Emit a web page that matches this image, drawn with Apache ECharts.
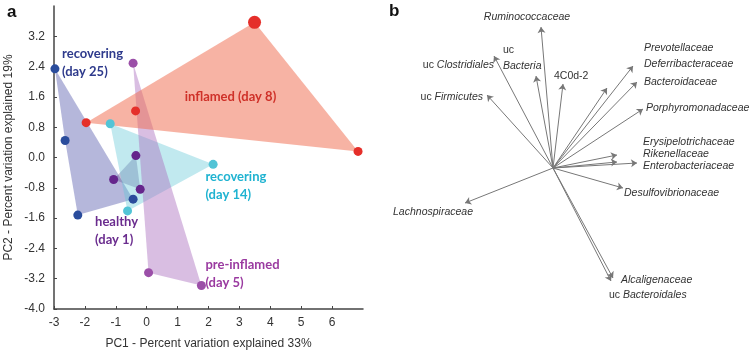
<!DOCTYPE html>
<html>
<head>
<meta charset="utf-8">
<script src="https://cdn.jsdelivr.net/npm/echarts@6/dist/echarts.min.js"></script>
<style>html,body{margin:0;padding:0;background:#fff}#c{width:752px;height:355px}</style>
</head>
<body>
<div id="c"></div>
<script>
// ---------- Panel a data (PC1, PC2) ----------
const groups = ['recovering (day 25)', 'healthy (day 1)', 'recovering (day 14)', 'pre-inflamed (day 5)', 'inflamed (day 8)'];
const recovering25 = [[-2.97, 2.34], [-2.64, 0.45], [-2.23, -1.52], [-0.44, -1.10]];
const healthy1 = [[-0.35, 0.05], [-1.07, -0.58], [-0.21, -0.84]];
const recovering14 = [[-1.18, 0.89], [2.15, -0.18], [-0.62, -1.41]];
const preInflamed5 = [[-0.44, 2.49], [0.06, -3.04], [1.77, -3.38]];
const inflamed8 = [[3.49, 3.57], [-1.96, 0.92], [-0.36, 1.23], [6.84, 0.16]];
const xTicks = [-3, -2, -1, 0, 1, 2, 3, 4, 5, 6];
const yTicks = [-4.0, -3.2, -2.4, -1.6, -0.8, 0.0, 0.8, 1.6, 2.4, 3.2];

// ---------- Panel b data (loadings) ----------
const taxa = ['Ruminococcaceae', 'uc Clostridiales', 'uc Bacteria', '4C0d-2', 'uc Firmicutes',
  'Prevotellaceae', 'Deferribacteraceae', 'Bacteroidaceae', 'Porphyromonadaceae',
  'Erysipelotrichaceae', 'Rikenellaceae', 'Enterobacteriaceae', 'Desulfovibrionaceae',
  'Lachnospiraceae', 'Alcaligenaceae', 'uc Bacteroidales'];
const loadX = [-0.12, -0.59, -0.17, 0.10, -0.66, 0.54, 0.80, 0.84, 0.90, 0.64, 0.64, 0.84, 0.70, -0.88, 0.60, 0.58];
const loadY = [1.41, 1.12, 0.92, 0.84, 0.73, 0.80, 1.02, 0.86, 0.59, 0.13, 0.06, 0.05, -0.20, -0.35, -1.10, -1.13];

// ---------- styling / layout (not data) ----------
const groupData = [recovering25, healthy1, recovering14, preInflamed5, inflamed8];
const pointColor = ['#2a4c9c', '#65258c', '#52c4d6', '#9b4fa8', '#e52f2a'];
const fillColor = ['rgba(90,95,175,0.45)', 'rgba(110,90,150,0.4)', 'rgba(100,200,215,0.4)', 'rgba(170,110,190,0.45)', 'rgba(240,110,80,0.52)'];
const textColor = ['#2e3a8c', '#6a2c8e', '#1fb3d1', '#9a3aa0', '#cf3129'];
const groupText = [['recovering', '(day 25)'], ['healthy', '(day 1)'], ['recovering', '(day 14)'], ['pre-inflamed', '(day 5)'], ['inflamed (day 8)']];
const groupTextAt = [[-2.74, 2.49, 'left'], [-1.67, -1.94, 'left'], [1.90, -0.76, 'left'], [1.90, -3.07, 'left'], [2.71, 1.60, 'center']];
// label offsets for panel b in px relative to arrow tip: [dx, dy, align]
const taxaLabel = [[-14, -10, 'center'], [0, 9, 'right'], [-33, -18, 'left'], [-9, -8, 'left'], [-4, 2, 'right'],
  [37, -40, 'left'], [11, -2, 'left'], [7, 0, 'left'], [3, -1, 'left'],
  [26, -13, 'left'], [26, -8, 'left'], [6, 3, 'left'], [1, 5, 'left'],
  [8, 9, 'right'], [8, 2, 'left'], [-2, 14, 'left']];

function hull(pts) {
  const p = pts.slice().sort((a, b) => a[0] - b[0] || a[1] - b[1]);
  const cross = (o, a, b) => (a[0] - o[0]) * (b[1] - o[1]) - (a[1] - o[1]) * (b[0] - o[0]);
  const lo = [], up = [];
  for (const q of p) { while (lo.length >= 2 && cross(lo[lo.length - 2], lo[lo.length - 1], q) <= 0) lo.pop(); lo.push(q); }
  for (let i = p.length - 1; i >= 0; i--) { const q = p[i]; while (up.length >= 2 && cross(up[up.length - 2], up[up.length - 1], q) <= 0) up.pop(); up.push(q); }
  up.pop(); lo.pop(); return lo.concat(up);
}

function richText(name) {
  if (name === '4C0d-2') return '{n|4C0d-2}';
  if (name === 'uc Bacteria') return '{n|uc}\n{i|Bacteria}';
  if (name.startsWith('uc ')) return '{n|uc }{i|' + name.slice(3) + '}';
  return '{i|' + name + '}';
}

const series = [];
groupData.forEach((pts, gi) => {
  series.push({
    type: 'custom', name: groups[gi] + ' hull', xAxisIndex: 0, yAxisIndex: 0, z: 2, silent: true,
    data: [0],
    renderItem: (params, api) => ({
      type: 'polygon',
      shape: { points: hull(pts).map(p => api.coord(p)) },
      style: { fill: fillColor[gi], stroke: 'none' }
    })
  });
});
groupData.forEach((pts, gi) => {
  series.push({
    type: 'scatter', name: groups[gi], xAxisIndex: 0, yAxisIndex: 0, z: 5,
    data: pts,
    symbolSize: (v, p) => (gi === 4 && p.dataIndex === 0) ? 13 : 9,
    itemStyle: { color: pointColor[gi], opacity: 1 }
  });
});
series.push({
  type: 'custom', xAxisIndex: 0, yAxisIndex: 0, z: 6, silent: true,
  data: groupText.map((t, i) => i),
  renderItem: (params, api) => {
    const i = params.dataIndex;
    const at = groupTextAt[i];
    const c = api.coord([at[0], at[1]]);
    return {
      type: 'text', x: c[0], y: c[1],
      style: {
        text: groupText[i].join('\n'), fill: textColor[i], align: at[2], verticalAlign: 'middle',
        font: 'bold 13px Lato', lineHeight: 18
      }
    };
  }
});
series.push({
  type: 'lines', coordinateSystem: 'cartesian2d', xAxisIndex: 1, yAxisIndex: 1, z: 3, silent: true,
  symbol: ['none', 'arrow'], symbolSize: 6,
  lineStyle: { color: '#777', width: 1, opacity: 1 },
  data: taxa.map((t, i) => ({ coords: [[0, 0], [loadX[i], loadY[i]]] }))
});
series.push({
  type: 'custom', xAxisIndex: 1, yAxisIndex: 1, z: 6, silent: true,
  data: taxa.map((t, i) => i),
  renderItem: (params, api) => {
    const i = params.dataIndex;
    const c = api.coord([loadX[i], loadY[i]]);
    const L = taxaLabel[i];
    return {
      type: 'text', x: c[0] + L[0], y: c[1] + L[1],
      style: {
        text: richText(taxa[i]), align: L[2], verticalAlign: 'middle',
        rich: {
          i: { fontStyle: 'italic', fontFamily: 'Liberation Sans', fontSize: 10.5, fill: '#333', color: '#333', lineHeight: 16, align: L[2] },
          n: { fontFamily: 'Liberation Sans', fontSize: 10.5, fill: '#333', color: '#333', lineHeight: 16, align: L[2] }
        }
      }
    };
  }
});

const axisFont = { fontFamily: 'Liberation Sans', fontSize: 12, color: '#333' };
const option = {
  animation: false,
  grid: [
    { left: 54, top: 6, width: 309, height: 304 },
    { left: 376, top: 0, width: 376, height: 355 }
  ],
  xAxis: [
    {
      gridIndex: 0, type: 'value', min: -3, max: 7, interval: 1,
      name: 'PC1 - Percent variation explained 33%', nameLocation: 'middle', nameGap: 29,
      nameTextStyle: axisFont,
      axisLine: { onZero: false, lineStyle: { color: '#444', width: 1.5 } },
      axisTick: { inside: true, length: 3, lineStyle: { color: '#444' } },
      axisLabel: { ...axisFont, margin: 8, showMaxLabel: false, formatter: v => xTicks.includes(v) ? String(v) : '' },
      splitLine: { show: false }
    },
    { gridIndex: 1, type: 'value', min: -1.77, max: 1.99, show: false, splitLine: { show: false } }
  ],
  yAxis: [
    {
      gridIndex: 0, type: 'value', min: -4, max: 4, interval: 0.8,
      name: 'PC2 - Percent variation explained 19%', nameLocation: 'middle', nameGap: 39, nameRotate: 90,
      nameTextStyle: axisFont,
      axisLine: { onZero: false, lineStyle: { color: '#444', width: 1.5 } },
      axisTick: { inside: true, length: 3, lineStyle: { color: '#444' } },
      axisLabel: { ...axisFont, margin: 9, showMaxLabel: false,
        formatter: v => { const r = Math.round(v * 10) / 10; return yTicks.some(t => Math.abs(t - r) < 1e-6) ? r.toFixed(1) : ''; } },
      splitLine: { show: false }
    },
    { gridIndex: 1, type: 'value', min: -1.87, max: 1.68, show: false, splitLine: { show: false } }
  ],
  graphic: [
    { type: 'text', left: 7, top: 4, style: { text: 'a', font: 'bold 17px Liberation Sans', fill: '#111' } },
    { type: 'text', left: 389, top: 3, style: { text: 'b', font: 'bold 17px Liberation Sans', fill: '#111' } }
  ],
  series: series
};
const chart = echarts.init(document.getElementById('c'));
chart.setOption(option);
</script>
</body>
</html>
